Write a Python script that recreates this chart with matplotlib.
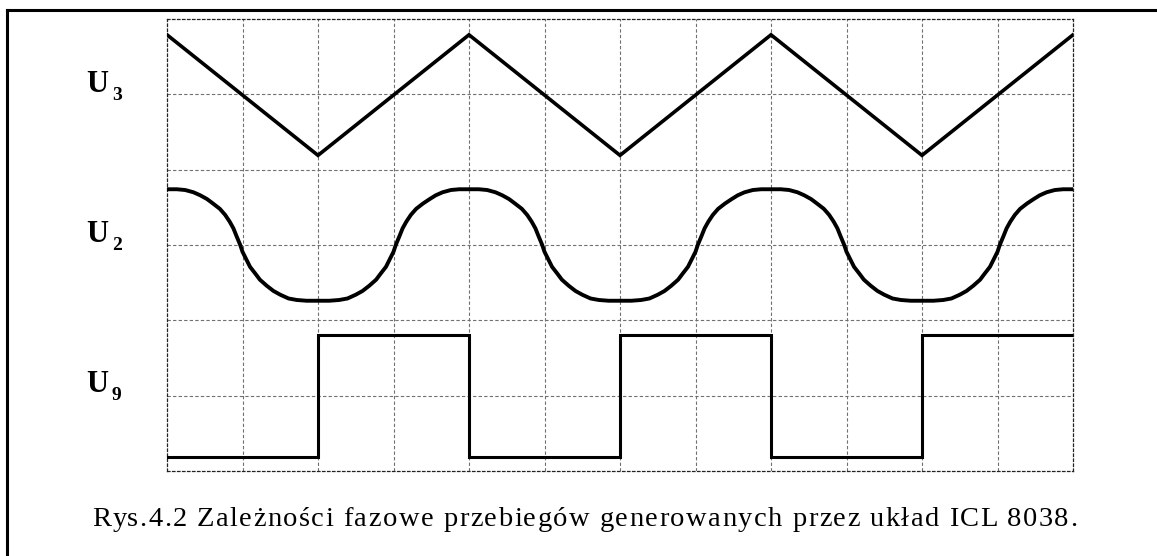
import numpy as np
import matplotlib.pyplot as plt
from matplotlib.font_manager import FontProperties

# time axis in grid divisions (12 across), voltages in grid divisions (6 up)
periods = [0, 4, 8]

# triangle output (pin 3): corner points
u3_t = [0, 2, 4, 6, 8, 10, 12]
u3_v = [5.79, 4.19, 5.79, 4.19, 5.79, 4.19, 5.79]

# sine output (pin 2): one period, read point by point
u2_t = [0.0, 0.13, 0.24, 0.35, 0.44, 0.53, 0.61, 0.70, 0.77, 0.83, 0.88, 0.92, 0.97,
        1.00, 1.05, 1.10, 1.17, 1.23, 1.32, 1.41, 1.50, 1.61, 1.72, 1.85, 2.0,
        2.15, 2.28, 2.39, 2.50, 2.59, 2.68, 2.77, 2.83, 2.90, 2.95, 3.00, 3.03,
        3.08, 3.12, 3.17, 3.23, 3.30, 3.39, 3.48, 3.56, 3.65, 3.76, 3.87, 4.0]
u2_v = [3.74, 3.74, 3.73, 3.70, 3.66, 3.61, 3.55, 3.48, 3.40, 3.31, 3.22, 3.12, 3.00,
        2.91, 2.81, 2.71, 2.62, 2.54, 2.46, 2.39, 2.34, 2.29, 2.27, 2.26, 2.26,
        2.26, 2.27, 2.29, 2.34, 2.39, 2.46, 2.54, 2.62, 2.71, 2.81, 2.91, 3.00,
        3.12, 3.22, 3.31, 3.40, 3.48, 3.55, 3.61, 3.66, 3.70, 3.73, 3.74, 3.74]

# square output (pin 9): edges
u9_t = [0, 2, 2, 4, 4, 6, 6, 8, 8, 10, 10, 12]
u9_v = [0.19, 0.19, 1.81, 1.81, 0.19, 0.19, 1.81, 1.81, 0.19, 0.19, 1.81, 1.81]

labels = ['3', '2', '9']
label_y = [92, 242, 392]  # baseline of the "U", pixels from top

caption = 'Rys.4.2 Zależności fazowe przebiegów generowanych przez układ ICL 8038.'

W, H = 1157, 556
fig = plt.figure(figsize=(W / 100, H / 100), dpi=100)
ax = fig.add_axes([167 / W, 1 - 471 / H, (1073 - 167) / W, (471 - 19) / H])
ax.set_xlim(0, 12)
ax.set_ylim(0, 6)

# dashed grid
for gx in range(1, 12):
    ax.axvline(gx, color='#707070', lw=0.8, ls=(0, (3, 2)), zorder=1)
for gy in range(1, 6):
    ax.axhline(gy, color='#707070', lw=0.8, ls=(0, (3, 2)), zorder=1)
for side in ['left', 'right', 'top', 'bottom']:
    ax.spines[side].set_linestyle((0, (2, 2)))
    ax.spines[side].set_linewidth(0.9)
    ax.spines[side].set_color('#222222')
ax.set_xticks([])
ax.set_yticks([])

ax.plot(u3_t, u3_v, color='black', lw=2.6, solid_joinstyle='miter', zorder=3)

sine_t = np.concatenate([np.array(u2_t) + p for p in periods])
sine_v = np.concatenate([u2_v for p in periods])
ax.plot(sine_t, sine_v, color='black', lw=2.8, zorder=3)

ax.plot(u9_t, u9_v, color='black', lw=2.2, solid_joinstyle='miter', zorder=3)

# channel labels
for sub, yb in zip(labels, label_y):
    fig.text(86 / W, 1 - yb / H, 'U', fontsize=22, fontweight='bold',
             family='Liberation Serif', va='baseline', ha='left')
    fig.text(112 / W, 1 - (yb + 8) / H, sub, fontsize=14, fontweight='bold',
             family='Liberation Serif', va='baseline', ha='left')

# caption, set with slightly wider letter spacing
fp = FontProperties(family='Liberation Serif', size=20.5)
renderer = fig.canvas.get_renderer()


def text_w(s):
    w, h, d = renderer.get_text_width_height_descent(s, fp, ismath=False)
    return w


ref_w = text_w('H')
x_left, x_right = 92, 1077
natural = text_w(caption)
track = (x_right - x_left - natural) / (len(caption) - 1)
for i, ch in enumerate(caption):
    pos = text_w(caption[:i] + 'H') - ref_w
    fig.text((x_left + pos + i * track) / W, 1 - 526 / H, ch, fontproperties=fp,
             va='baseline', ha='left')

# frame around the figure
fig.add_artist(plt.Line2D([7 / W, 1], [1 - 10 / H, 1 - 10 / H], color='black', lw=2.2))
fig.add_artist(plt.Line2D([7 / W, 7 / W], [0, 1 - 10 / H], color='black', lw=2.2))

fig.savefig('out.png', dpi=100)
